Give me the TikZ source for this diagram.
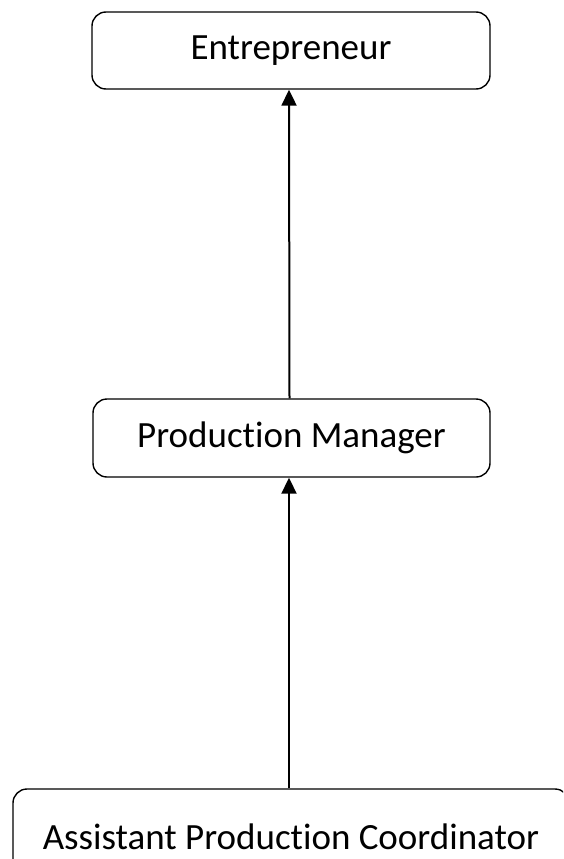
\documentclass[tikz,border=0pt]{standalone}
\usepackage{fontspec}
\setmainfont{Carlito}[Ligatures=NoCommon]
\usetikzlibrary{arrows.meta}
\tikzset{
  rolebox/.style={draw=black, line width=1.4pt, rounded corners=14pt, inner sep=0pt, align=center, font=\fontsize{37}{44}\selectfont},
  arr/.style={line width=2pt, -{Triangle[width=15pt,length=16pt]}}
}
\begin{document}
\begin{tikzpicture}[x=1pt,y=1pt]
\useasboundingbox (0,0) rectangle (563,-859);
\clip (0,0) rectangle (563,-859);
\node[rolebox, minimum width=398pt, minimum height=77pt] (ent) at (291,-50.5) {Entrepreneur};
\node[rolebox, minimum width=397pt, minimum height=78pt] (pm) at (291.5,-438) {Production Manager};
\node[rolebox, minimum width=556pt, minimum height=96pt] (apc) at (291,-837) {Assistant Production Coordinator};
\coordinate (pmb) at ([xshift=-2.5pt]pm.south);
\draw[arr] ([xshift=-2pt]pm.north) -- ([xshift=-2pt]ent.south);
\draw[arr] (apc.north -| pmb) -- (pmb);
\end{tikzpicture}
\end{document}
